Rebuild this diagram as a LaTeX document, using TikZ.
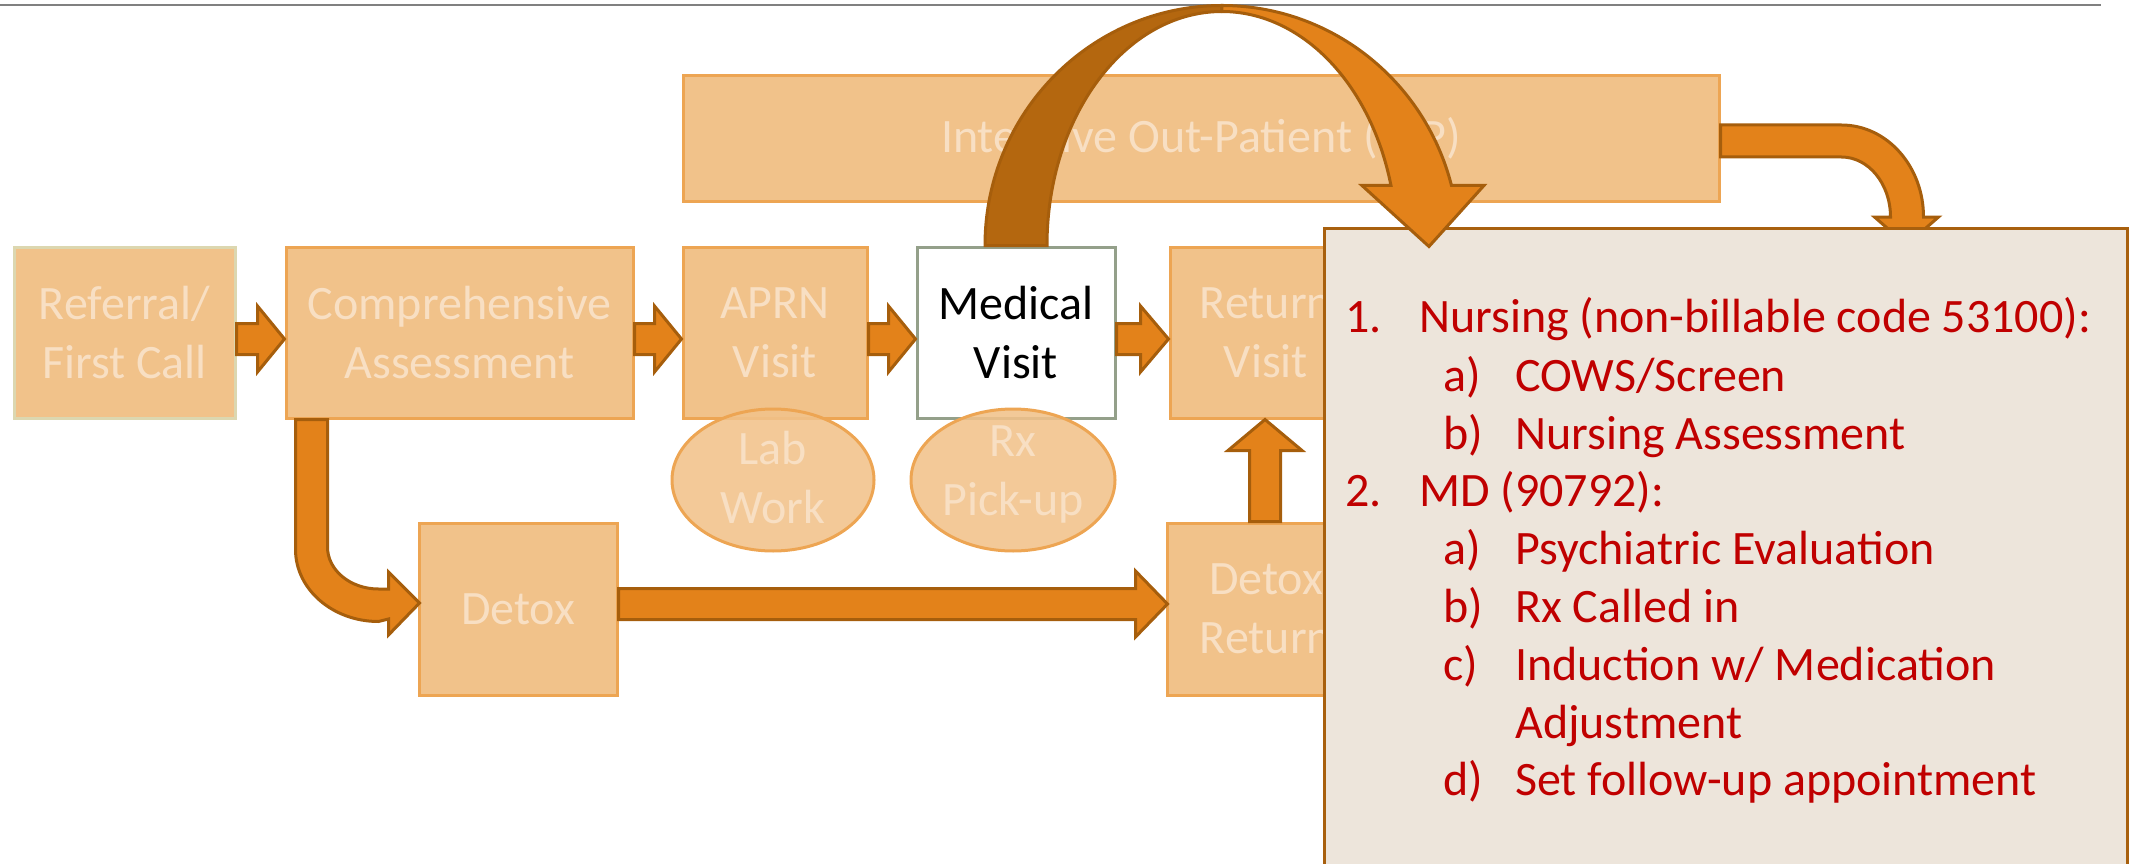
\documentclass[tikz,border=0pt]{standalone}
\usepackage{fontspec}
\setmainfont{Carlito}
\usetikzlibrary{calc,shapes.geometric}
\definecolor{boxfill}{HTML}{F1C28A}
\definecolor{boxline}{HTML}{EDA553}
\definecolor{fadetext}{HTML}{F8DFC3}
\definecolor{arrfill}{HTML}{E3821A}
\definecolor{arrline}{HTML}{A65E0C}
\definecolor{arrdark}{HTML}{B4670F}
\definecolor{bigfill}{HTML}{EDE5DB}
\definecolor{bigline}{HTML}{A8600E}
\definecolor{redtxt}{HTML}{C00000}
\definecolor{medline}{HTML}{94A08A}
\definecolor{refline}{HTML}{DCD7B0}
\definecolor{topline}{HTML}{808080}
\tikzset{
  bigfont/.style={font=\fontsize{48}{59}\selectfont},
  fadebox/.style={draw=boxline, fill=boxfill, line width=3pt, text=fadetext, bigfont, align=center, inner sep=0pt},
  fadeell/.style={ellipse, draw=boxline, fill=boxfill, fill opacity=0.88, line width=3pt, inner sep=0pt},
  fadelabel/.style={text=fadetext, bigfont, align=center, inner sep=0pt},
  arrowshape/.style={draw=arrline, fill=arrfill, line width=3pt},
  listtext/.style={text=redtxt, bigfont, inner sep=0pt, anchor=base west},
}
\newcommand\blkarrowH[3]{\draw[arrowshape] ($(#1)+(0,-15.5)$) -- ($(#2)+(-#3,-15.5)$) -- ($(#2)+(-#3,-33)$) -- (#2) -- ($(#2)+(-#3,33)$) -- ($(#2)+(-#3,15.5)$) -- ($(#1)+(0,15.5)$) -- cycle;}
\begin{document}
\begin{tikzpicture}[x=1pt,y=-1pt]
\useasboundingbox (0,0) rectangle (2129,864);
% top rule
\coordinate (tl) at (0,5);
\coordinate (tr) at (2101,5);
\draw[topline, line width=2pt] (tl) -- (tr);

% IOP box
\node[fadebox, minimum width=1036pt, minimum height=125pt] (iop) at (1201,138.5) {Intensive Out-Patient (IOP)};

% main row
\node[fadebox, draw=refline, minimum width=221pt, minimum height=171pt] (ref) at (124.5,332.5) {Referral/\\First Call};
\node[fadebox, minimum width=347pt, minimum height=171pt] (comp) at (459.5,332.5) {Comprehensive\\Assessment};
\node[fadebox, minimum width=184pt, minimum height=171pt] (aprn) at (775,332.5) {APRN\\Visit};
\node[fadebox, draw=medline, fill=white, text=black, minimum width=198pt, minimum height=171pt] (med) at (1016,332.5) {Medical\\Visit};
\node[fadebox, minimum width=192pt, minimum height=171pt] (ret) at (1266,332.5) {Return\\Visit};

% lower row
\node[fadebox, minimum width=198pt, minimum height=172pt] (detox) at (518,609) {Detox};
\node[fadebox, minimum width=198pt, minimum height=172pt] (detret) at (1266,609) {Detox\\Return};

% ellipses
\node[fadeell, minimum width=202pt, minimum height=142pt] (labE) at (773,480) {};
\node[fadelabel] (labT) at (773,477) {Lab\\Work};
\node[fadeell, minimum width=204pt, minimum height=142pt] (rxE) at (1013,480) {};
\node[fadelabel] (rxT) at (1013,474) {Rx\\Pick-up};

% small block arrows
\coordinate (a1s) at ($(ref.east)+(0,6.5)$);
\coordinate (a1e) at ($(comp.west)+(0,6.5)$);
\blkarrowH{a1s}{a1e}{27}
\coordinate (a2s) at ($(comp.east)+(0,6.5)$);
\coordinate (a2e) at ($(aprn.west)+(0,6.5)$);
\blkarrowH{a2s}{a2e}{27}
\coordinate (a3s) at ($(aprn.east)+(0,6.5)$);
\coordinate (a3e) at ($(med.west)+(0,6.5)$);
\blkarrowH{a3s}{a3e}{27}
\coordinate (a4s) at ($(med.east)+(0,6.5)$);
\coordinate (a4e) at ($(ret.west)+(0,6.5)$);
\blkarrowH{a4s}{a4e}{28}

% detox -> detox return
\coordinate (a5s) at ($(detox.east)+(0,-5)$);
\coordinate (a5e) at ($(detret.west)+(2,-5)$);
\blkarrowH{a5s}{a5e}{32}

% detox return -> return visit (up)
\coordinate (a6s) at ($(detret.north)+(-1,0)$);
\coordinate (a6e) at ($(ret.south)+(-1,0)$);
\draw[arrowshape] ($(a6s)+(-15.5,0)$) -- ($(a6e)+(-15.5,31)$) -- ($(a6e)+(-37,31)$) -- (a6e) -- ($(a6e)+(37,31)$) -- ($(a6e)+(15.5,31)$) -- ($(a6s)+(15.5,0)$) -- cycle;

% comprehensive -> detox (bent)
\coordinate (a7s) at ($(comp.south west)+(27,0)$);
\coordinate (a7e) at ($(detox.west)+(2,-6)$);
\draw[arrowshape] ($(a7s)+(-16,0)$) -- ++(0,130)
  arc[start angle=180, end angle=90, x radius=83, y radius=72]
  -- ($(a7e)+(-31,16)$) -- ($(a7e)+(-31,32)$) -- (a7e) -- ($(a7e)+(-31,-31)$) -- ($(a7e)+(-31,-14)$) -- ($(a7e)+(-41,-14)$)
  arc[start angle=90, end angle=180, x radius=51, y radius=42]
  -- ($(a7s)+(16,0)$) -- cycle;

% IOP -> big box (behind big box)
\coordinate (a8s) at (iop.east);
\draw[arrowshape] ($(a8s)+(0,-13.5)$) -- ++(121,0)
  arc[start angle=270, end angle=360, x radius=82, y radius=92]
  -- ++(15,0) -- ++(-32,28) -- ++(-32,-28) -- ++(16,0)
  arc[start angle=0, end angle=-90, x radius=49, y radius=60]
  -- ($(a8s)+(0,18.5)$) -- cycle;

% big box
\node[fill=bigfill, minimum width=802pt, minimum height=662pt, inner sep=0pt] (big) at (1726,560) {};
\draw[bigline, line width=3pt] ($(big.south west)+(0,-10)$) -- (big.north west) -- (big.north east) -- ($(big.south east)+(0,-10)$);

% list text
\node[listtext] (n1) at (1345,332) {1.};
\node[listtext] (t1) at (1419,332) {Nursing (non-billable code 53100):};
\node[listtext] (l1a) at (1443,391) {a)};
\node[listtext] (t1a) at (1515,391) {COWS/Screen};
\node[listtext] (l1b) at (1443,449) {b)};
\node[listtext] (t1b) at (1515,449) {Nursing Assessment};
\node[listtext] (n2) at (1345,506) {2.};
\node[listtext] (t2) at (1419,506) {MD (90792):};
\node[listtext] (l2a) at (1443,564) {a)};
\node[listtext] (t2a) at (1515,564) {Psychiatric Evaluation};
\node[listtext] (l2b) at (1443,622) {b)};
\node[listtext] (t2b) at (1515,622) {Rx Called in};
\node[listtext] (l2c) at (1443,680) {c)};
\node[listtext] (t2c) at (1515,680) {Induction w/ Medication};
\node[listtext] (t2c2) at (1515,738) {Adjustment};
\node[listtext] (l2d) at (1443,795) {d)};
\node[listtext] (t2d) at (1515,795) {Set follow-up appointment};

% curved arrow from Medical Visit over the top
\coordinate (a9s) at (med.north);
\draw[draw=arrline, fill=arrdark, line width=3pt] ($(a9s)+(-31,0)$)
  arc[start angle=180, end angle=270, x radius=237, y radius=240]
  -- ++(0,6)
  arc[start angle=270, end angle=180, x radius=175, y radius=234]
  -- cycle;
\draw[arrowshape] ($(a9s)+(206,-240)$)
  arc[start angle=270, end angle=345.52, x radius=237, y radius=240]
  -- ++(32.5,0) -- ++(-55,61) -- ++(-67,-61) -- ++(29,0)
  arc[start angle=345.14, end angle=270, x radius=175, y radius=234]
  -- cycle;
\end{tikzpicture}
\end{document}
